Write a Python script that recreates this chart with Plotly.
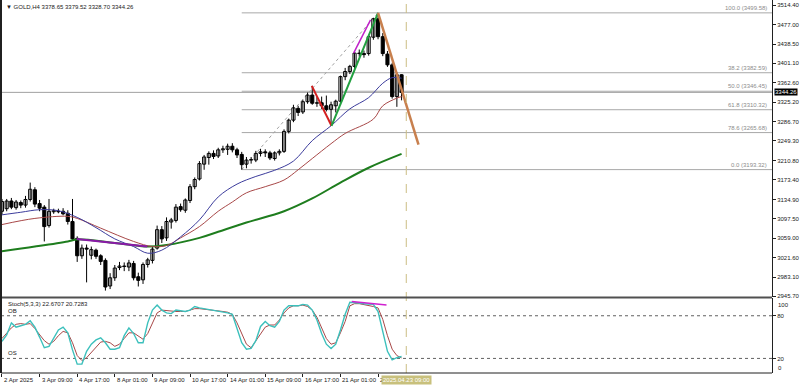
import plotly.graph_objects as go

# ---------------- data ----------------
bar_index = list(range(86))
open_ = [3112, 3117, 3132, 3119, 3129, 3124, 3135, 3154, 3127, 3120,
         3084, 3111, 3112, 3112, 3108, 3092, 3059, 3025, 3040, 3026,
         3036, 3025, 3016, 2966, 2982, 3002, 3005, 3003, 3010, 2984,
         2978, 3008, 3016, 3040, 3076, 3060, 3091, 3094, 3121, 3114,
         3133, 3160, 3175, 3204, 3217, 3225, 3220, 3232, 3233, 3239,
         3232, 3223, 3204, 3212, 3212, 3225, 3228, 3226, 3215, 3226,
         3229, 3268, 3290, 3313, 3306, 3326, 3339, 3323, 3324, 3318,
         3311, 3318, 3327, 3375, 3385, 3395, 3421, 3420, 3420, 3452,
         3488, 3453, 3419, 3398, 3336, 3378.65]
high = [3136, 3136, 3138, 3134, 3133, 3142, 3168, 3159, 3134, 3124,
        3136, 3117, 3117, 3118, 3114, 3136, 3063, 3047, 3047, 3043,
        3039, 3028, 3020, 2991, 3007, 3013, 3012, 3017, 3015, 2992,
        3012, 3021, 3043, 3084, 3083, 3100, 3099, 3126, 3127, 3137,
        3165, 3178, 3210, 3222, 3229, 3231, 3236, 3240, 3244, 3245,
        3236, 3228, 3218, 3218, 3230, 3234, 3233, 3230, 3229, 3233,
        3272, 3293, 3320, 3318, 3330, 3344, 3357, 3335, 3336, 3338,
        3326, 3330, 3377, 3392, 3398, 3424, 3428, 3426, 3456, 3490,
        3499.58, 3460, 3425, 3402, 3383, 3379.52]
low = [3106, 3112, 3116, 3115, 3118, 3119, 3131, 3120, 3112, 3053,
       3080, 3107, 3108, 3104, 3086, 3054, 3013, 3019, 2973, 3018,
       3019, 3007, 2957, 2960, 2976, 2997, 2995, 2995, 2977, 2965,
       2970, 3002, 3010, 3037, 3050, 3054, 3078, 3090, 3111, 3109,
       3128, 3155, 3172, 3193, 3203, 3214, 3216, 3226, 3222, 3227,
       3216, 3193.32, 3196, 3205, 3208, 3219, 3218, 3212, 3211, 3221,
       3226, 3264, 3286, 3298, 3302, 3322, 3320, 3316, 3312, 3307,
       3279, 3305, 3322, 3368, 3380, 3390, 3414, 3412, 3416, 3447,
       3448, 3415, 3394, 3332, 3316, 3328.70]
close = [3131, 3132, 3120, 3130, 3124, 3135, 3155, 3126, 3118, 3082,
         3112, 3113, 3111, 3107, 3092, 3058, 3025, 3040, 3038, 3037,
         3024, 3014, 2964, 2982, 3001, 3005, 3004, 3011, 2982, 2977,
         3008, 3017, 3038, 3076, 3058, 3092, 3095, 3120, 3115, 3134,
         3160, 3174, 3205, 3218, 3225, 3219, 3232, 3234, 3239, 3232,
         3222, 3203, 3212, 3213, 3225, 3228, 3226, 3216, 3226, 3229,
         3268, 3290, 3314, 3305, 3326, 3339, 3323, 3324, 3318, 3311,
         3320, 3327, 3375, 3385, 3395, 3421, 3420, 3418, 3453, 3488,
         3453, 3420, 3398, 3336, 3378.6, 3344.26]

ma_fast_x = [0, 4, 8, 12, 16, 20, 24, 28, 31, 34, 38, 42, 46, 50, 54, 58, 62, 66, 70, 74, 78, 81, 83, 85]
ma_fast = [3105, 3110, 3115, 3113, 3100, 3080, 3058, 3043, 3030, 3036, 3062, 3095, 3140, 3165, 3180, 3192, 3210, 3250, 3279, 3312, 3334, 3362, 3373, 3372]
ma_mid_x = [0, 7, 14, 16, 21, 28, 32, 35, 38, 42, 46, 49, 52, 56, 60, 63, 66, 70, 73, 79, 81, 84, 85]
ma_mid = [3086, 3098, 3102, 3098, 3079, 3053, 3043, 3045, 3060, 3082, 3112, 3130, 3148, 3160, 3173, 3193, 3215, 3244, 3264, 3292, 3318, 3333, 3336]
ma_slow_x = [0, 7, 14, 16, 24, 31, 35, 42, 46, 52, 60, 66, 72, 78, 85]
ma_slow = [3034, 3043, 3053, 3057, 3050, 3043, 3046, 3060, 3072, 3090, 3112, 3137, 3168, 3197, 3224]

stoch_main = [44, 53, 70, 64, 66, 68, 73, 64, 50, 35, 37, 48, 60, 64, 56, 32, 12, 12, 30, 40,
              46, 49, 42, 33, 33, 35, 52, 63, 55, 42, 42, 70, 88, 95, 88, 84, 83, 88, 87, 86,
              88, 93, 91, 90, 88, 88, 86, 86, 84, 82, 62, 42, 33, 34, 45, 65, 72, 66, 64, 72,
              88, 94, 94, 94, 96, 95, 88, 74, 55, 40, 34, 40, 60, 82, 99, 99, 98, 97, 97, 96,
              86, 57, 30, 18, 21, 22.67]
stoch_signal = [48, 56, 63, 68, 69, 68, 69, 62, 54, 45, 40, 44, 52, 58, 56, 42, 24, 17, 21, 28,
                36, 43, 44, 42, 37, 40, 48, 56, 56, 51, 47, 55, 70, 84, 88, 87, 86, 86, 86, 86,
                88, 90, 90, 89, 88, 87, 86, 86, 85, 82, 70, 56, 40, 35, 45, 54, 64, 67, 67, 74,
                84, 91, 94, 94, 95, 93, 88, 78, 62, 48, 40, 42, 56, 72, 94, 97, 97, 96, 95, 93,
                91, 75, 52, 33, 24, 20.73]

tick_bars = [0, 8, 16, 24, 32, 40, 48, 56, 64, 72, 80]
tick_labels = ["2 Apr 2025", "3 Apr 09:00", "4 Apr 17:00", "8 Apr 01:00", "9 Apr 09:00",
               "10 Apr 17:00", "14 Apr 01:00", "15 Apr 09:00", "16 Apr 17:00",
               "21 Apr 01:00", "22 Apr 09:00"]
price_ticks = [3514.40, 3477.00, 3438.50, 3401.10, 3362.60, 3325.20, 3286.70, 3249.30,
               3210.80, 3173.40, 3134.90, 3097.50, 3059.00, 3021.60, 2983.10, 2945.70]

fib_levels = [3499.58, 3382.59, 3346.45, 3310.32, 3265.68, 3193.32]
fib_names = ["100.0", "38.2", "50.0", "61.8", "78.6", "0.0"]
fib_start_bar = 51
fib_end_bar = 80

last_price = 3344.26
cursor_bar = 86
cursor_label = "2025.04.23 09:00"

# drawn trendlines: (bar0, price0, bar1, price1)
line_red = [65.9, 3357, 70.1, 3279]
line_green = [70.1, 3279, 80.0, 3499.58]
line_magenta = [74.8, 3421, 78.4, 3486]
line_purple = [15.9, 3058, 30.9, 3043]
line_brown = [80.0, 3499.58, 88.6, 3242]
stoch_magenta = [74.4, 100, 81.8, 95.3]

# ---------------- figure ----------------
FONT = "Liberation Sans"
XR = [-0.21, 163.8]

fig = go.Figure()

# candle wicks
wx, wy = [], []
for i, h, l in zip(bar_index, high, low):
    wx += [i, i, None]
    wy += [l, h, None]
fig.add_trace(go.Scatter(x=wx, y=wy, mode="lines", line=dict(color="black", width=1),
                         xaxis="x", yaxis="y", showlegend=False, hoverinfo="skip"))
# candle bodies
body_base = [min(o, c) for o, c in zip(open_, close)]
body_h = [max(abs(c - o), 0.7) for o, c in zip(open_, close)]
body_col = ["white" if c >= o else "black" for o, c in zip(open_, close)]
fig.add_trace(go.Bar(x=bar_index, y=body_h, base=body_base, width=0.66,
                     marker=dict(color=body_col, line=dict(color="black", width=1)),
                     xaxis="x", yaxis="y", showlegend=False, hoverinfo="skip"))

fig.add_trace(go.Scatter(x=ma_slow_x, y=ma_slow, mode="lines", line=dict(color="#1e7d1e", width=2, shape="spline"),
                         xaxis="x", yaxis="y", showlegend=False))
fig.add_trace(go.Scatter(x=ma_mid_x, y=ma_mid, mode="lines", line=dict(color="#a84848", width=1, shape="spline"),
                         xaxis="x", yaxis="y", showlegend=False))
fig.add_trace(go.Scatter(x=ma_fast_x, y=ma_fast, mode="lines", line=dict(color="#3c3c9c", width=1, shape="spline"),
                         xaxis="x", yaxis="y", showlegend=False))

# stochastic
fig.add_trace(go.Scatter(x=bar_index, y=stoch_signal, mode="lines", line=dict(color="#a84848", width=1),
                         xaxis="x2", yaxis="y2", showlegend=False))
fig.add_trace(go.Scatter(x=bar_index, y=stoch_main, mode="lines", line=dict(color="#3cc0bc", width=1.4),
                         xaxis="x2", yaxis="y2", showlegend=False))

shapes = []
for lv in fib_levels:
    shapes.append(dict(type="line", xref="x", yref="y", x0=fib_start_bar, x1=XR[1], y0=lv, y1=lv,
                       line=dict(color="#a8a8a8", width=1), layer="below"))
shapes.append(dict(type="line", xref="x", yref="y", x0=fib_start_bar, y0=fib_levels[-1], x1=fib_end_bar,
                   y1=fib_levels[0], line=dict(color="#a0a0a0", width=1, dash="dot"), layer="below"))
shapes.append(dict(type="line", xref="paper", yref="y", x0=0, x1=1, y0=last_price, y1=last_price,
                   line=dict(color="#a0a0a0", width=1), layer="below"))
for ln, col, w in [(line_purple, "#8a1aa8", 2), (line_red, "#d42020", 2), (line_green, "#22a040", 2),
                   (line_magenta, "#c020c8", 1.5), (line_brown, "#c8804e", 2.5)]:
    shapes.append(dict(type="line", xref="x", yref="y", x0=ln[0], y0=ln[1], x1=ln[2], y1=ln[3],
                       line=dict(color=col, width=w)))
shapes.append(dict(type="line", xref="x2", yref="y2", x0=stoch_magenta[0], y0=stoch_magenta[1],
                   x1=stoch_magenta[2], y1=stoch_magenta[3], line=dict(color="#d020d0", width=1.5)))
for lv in [80, 20]:
    shapes.append(dict(type="line", xref="paper", yref="y2", x0=0, x1=1, y0=lv, y1=lv,
                       line=dict(color="#606060", width=1, dash="dot"), layer="below"))
shapes.append(dict(type="line", xref="x", yref="paper", x0=cursor_bar, x1=cursor_bar, y0=0, y1=1,
                   line=dict(color="#ccbd84", width=1, dash="dash")))
shapes.append(dict(type="line", xref="paper", yref="paper", x0=0, x1=1, y0=0.2025, y1=0.2025,
                   line=dict(color="#505050", width=2)))
shapes.append(dict(type="line", xref="paper", yref="paper", x0=0, x1=0, y0=0, y1=1,
                   line=dict(color="#202020", width=2)))
shapes.append(dict(type="line", xref="paper", yref="paper", x0=0, x1=1, y0=0, y1=0,
                   line=dict(color="#202020", width=1)))

ann = []
small = dict(family=FONT, size=6, color="#202020")
ann.append(dict(text="▼ GOLD,H4 3378.65 3379.52 3328.70 3344.26", xref="paper", yref="paper", x=0.004, y=0.995,
                xanchor="left", yanchor="top", showarrow=False, font=small))
for lv, nm in zip(fib_levels, fib_names):
    ann.append(dict(text=f"{nm} ({lv:.2f})", xref="paper", yref="y", x=1, y=lv, xanchor="right",
                    yanchor="bottom", xshift=-3, yshift=0, showarrow=False,
                    font=dict(family=FONT, size=6, color="#8c8c8c")))
ann.append(dict(text=f"{last_price:.2f}", xref="paper", yref="y", x=1, y=last_price, xanchor="left",
                xshift=2, showarrow=False, bgcolor="#000000", font=dict(family=FONT, size=6, color="white"),
                borderpad=0))
ann.append(dict(text="Stoch(5,3,3) 22.6707 20.7283", xref="paper", yref="y2", x=0.006, y=103,
                xanchor="left", yanchor="top", showarrow=False, font=small))
ann.append(dict(text="OB", xref="paper", yref="y2", x=0.006, y=80, xanchor="left", yanchor="bottom",
                showarrow=False, font=small))
ann.append(dict(text="OS", xref="paper", yref="y2", x=0.006, y=20, xanchor="left", yanchor="bottom",
                showarrow=False, font=small))
for v, ys in [(100, -3), (0, 5)]:
    ann.append(dict(text=str(v), xref="paper", yref="y2", x=1, y=v, xanchor="left", xshift=4, yshift=ys,
                    showarrow=False, font=small))
for b, t in zip(tick_bars, tick_labels):
    ann.append(dict(text=t, xref="x2", yref="paper", x=b, y=0, xanchor="left", yanchor="top", yshift=-2,
                    showarrow=False, font=small))
ann.append(dict(text=cursor_label, xref="x2", yref="paper", x=cursor_bar, y=0, xanchor="center",
                yanchor="top", yshift=-2, showarrow=False, bgcolor="#c8c07c", borderpad=1,
                font=dict(family=FONT, size=6, color="white")))

fig.update_layout(
    width=800, height=387, margin=dict(l=1, r=25, t=0, b=14),
    paper_bgcolor="white", plot_bgcolor="white", showlegend=False, bargap=0,
    xaxis=dict(domain=[0, 1], range=XR, anchor="y", showticklabels=False, showgrid=False,
               zeroline=False, ticks=""),
    xaxis2=dict(domain=[0, 1], range=XR, anchor="y2", matches="x", showticklabels=False, showgrid=False,
                zeroline=False, tickvals=tick_bars, ticks="outside", ticklen=3, tickcolor="#202020"),
    yaxis=dict(domain=[0.2038, 1], range=[2944.5, 3524.7], side="right", tickvals=price_ticks,
               ticktext=[f"{p:.2f}" for p in price_ticks], ticks="outside", ticklen=3,
               tickcolor="#202020", showgrid=False, zeroline=False, showline=True, linecolor="#202020",
               linewidth=1, tickfont=small),
    yaxis2=dict(domain=[0, 0.2011], range=[-0.5, 105], side="right", tickvals=[20, 80],
                ticktext=["20", "80"], ticks="outside", ticklen=3, tickcolor="#202020", showgrid=False,
                zeroline=False, showline=True, linecolor="#202020", linewidth=1, tickfont=small),
    shapes=shapes, annotations=ann,
)

fig.write_html("out.html", config={"displayModeBar": False, "staticPlot": True},
               post_script="document.body.style.margin='0';document.body.style.padding='0';")
